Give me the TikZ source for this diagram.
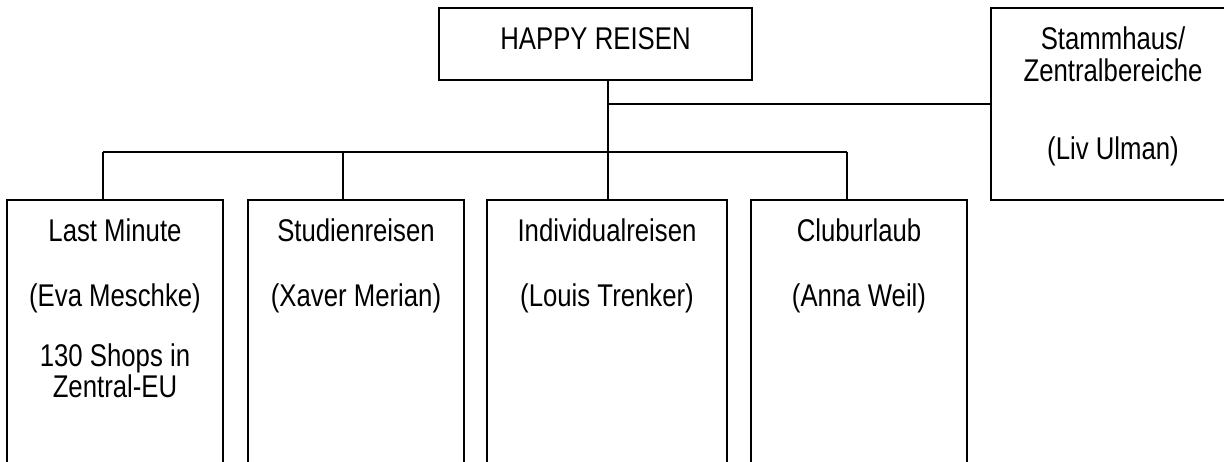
\documentclass[tikz,border=0pt]{standalone}
\usepackage{fontspec}
\setmainfont{Liberation Sans}[FakeStretch=0.82]
\usetikzlibrary{positioning}
\tikzset{
  box/.style={draw, line width=1pt, inner sep=0pt, minimum width=#1},
  txt/.style={anchor=base, inner sep=0pt, font=\fontsize{15.7}{16}\selectfont},
  link/.style={line width=1pt}
}

\begin{document}
\begin{tikzpicture}[x=0.5pt, y=-0.5pt]
\path[use as bounding box, clip] (0,0) rectangle (1224,461);
\node[box=156.5pt, minimum height=36pt] (happy) at (595.5,44) {};
\node[box=122pt, minimum height=96pt] (stamm) at (1113,104) {};
\node[box=108pt, minimum height=150pt] (lm) at (115,350) {};
\node[box=108pt, minimum height=150pt] (sr) at (356,350) {};
\node[box=120pt, minimum height=150pt] (ir) at (607,350) {};
\node[box=108pt, minimum height=150pt] (cu) at (859,350) {};
\coordinate (j1) at (608,104);
\coordinate (b1) at (103,152);
\coordinate (b2) at (343,152);
\coordinate (b4) at (847,152);
\draw[link] (happy.south -| j1) -- (j1 |- ir.north);
\draw[link] (j1) -- (j1 -| stamm.west);
\draw[link] (b1) -- (b4);
\draw[link] (b1) -- (b1 |- lm.north);
\draw[link] (b2) -- (b2 |- sr.north);
\draw[link] (b4) -- (b4 |- cu.north);
\node[txt] (happyA) at ([yshift=-21pt]happy.north) {HAPPY REISEN};
\node[txt] (stammA) at ([yshift=-21pt]stamm.north) {Stammhaus/};
\node[txt] (stammB) at ([yshift=-37pt]stamm.north) {Zentralbereiche};
\node[txt] (stammC) at ([yshift=-76pt]stamm.north) {(Liv Ulman)};
\node[txt] (lmA) at ([yshift=-21pt]lm.north) {Last Minute};
\node[txt] (lmB) at ([yshift=-53.5pt]lm.north) {(Eva Meschke)};
\node[txt] (lmC) at ([yshift=-83.5pt]lm.north) {130 Shops in};
\node[txt] (lmD) at ([yshift=-99pt]lm.north) {Zentral-EU};
\node[txt] (srA) at ([yshift=-21pt]sr.north) {Studienreisen};
\node[txt] (srB) at ([yshift=-53.5pt]sr.north) {(Xaver Merian)};
\node[txt] (irA) at ([yshift=-21pt]ir.north) {Individualreisen};
\node[txt] (irB) at ([yshift=-53.5pt]ir.north) {(Louis Trenker)};
\node[txt] (cuA) at ([yshift=-21pt]cu.north) {Cluburlaub};
\node[txt] (cuB) at ([yshift=-53.5pt]cu.north) {(Anna Weil)};
\end{tikzpicture}
\end{document}
